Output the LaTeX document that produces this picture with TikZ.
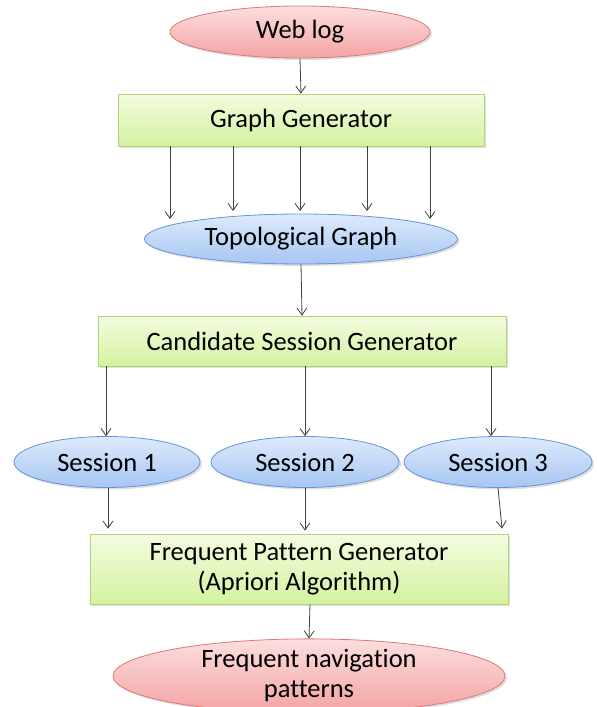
\documentclass[tikz,border=0pt]{standalone}
\usepackage{fontspec}
\setmainfont[Ligatures=NoCommon]{Carlito}
\usetikzlibrary{shapes.geometric,arrows.meta,shadows,calc}
\definecolor{redtop}{RGB}{252,222,222}
\definecolor{redbot}{RGB}{244,163,163}
\definecolor{redline}{RGB}{222,118,118}
\definecolor{greentop}{RGB}{243,252,224}
\definecolor{greenbot}{RGB}{212,242,160}
\definecolor{greenline}{RGB}{176,212,120}
\definecolor{bluetop}{RGB}{222,234,251}
\definecolor{bluebot}{RGB}{166,198,243}
\definecolor{blueline}{RGB}{100,148,214}
\definecolor{arrcol}{RGB}{64,64,64}
\tikzset{
  x=1pt,y=-1pt,
  every node/.style={font=\fontsize{26.5}{30}\selectfont, inner sep=0pt, align=center},
  shad/.style={drop shadow={opacity=0.25,shadow xshift=2pt,shadow yshift=-2pt}},
  redell/.style={ellipse, draw=redline, line width=0.8pt, top color=redtop, bottom color=redbot, shad},
  greenbox/.style={rectangle, draw=greenline, line width=0.8pt, top color=greentop, bottom color=greenbot, shad},
  blueell/.style={ellipse, draw=blueline, line width=0.8pt, top color=bluetop, bottom color=bluebot, shad},
  arr/.style={draw=arrcol, line width=0.8pt, -{Straight Barb[length=7pt,width=10pt]}}
}
\begin{document}
\begin{tikzpicture}
\useasboundingbox (0,0) rectangle (597,707);
\node[redell, minimum width=260, minimum height=52] (web) at (300,32) {Web log};
\node[greenbox, minimum width=366, minimum height=52] (gg) at (301,120) {Graph Generator};
\node[blueell, minimum width=313, minimum height=50] (tg) at (301,239) {Topological Graph};
\node[greenbox, minimum width=408, minimum height=50] (csg) at (302,341) {Candidate Session Generator};
\node[blueell, minimum width=186, minimum height=51] (s1) at (107,462) {Session 1};
\node[blueell, minimum width=188, minimum height=51] (s2) at (305,462) {Session 2};
\node[blueell, minimum width=188, minimum height=51] (s3) at (498,462) {Session 3};
\node[greenbox, minimum width=418, minimum height=70] (fpg) at (299,569) {Frequent Pattern Generator\\(Apriori Algorithm)};
\node[redell, minimum width=392, minimum height=66] (fnp) at (309,676) {Frequent navigation\\patterns};

\draw[arr] (web.south) -- (gg.north);
\draw[arr] ($(gg.south)+(-131,0)$) -- ($(tg.center)+(-131,-20)$);
\draw[arr] ($(gg.south)+(-68,0)$) -- ($(tg.center)+(-68,-28)$);
\draw[arr] ($(gg.south)+(-1,0)$) -- ($(tg.center)+(-1,-28)$);
\draw[arr] ($(gg.south)+(66,0)$) -- ($(tg.center)+(66,-28)$);
\draw[arr] ($(gg.south)+(129,0)$) -- ($(tg.center)+(129,-20)$);
\draw[arr] (tg.south) -- (csg.north);
\draw[arr] ($(csg.south)+(-196,0)$) -- ($(s1.north)+(-1,0)$);
\draw[arr] ($(csg.south)+(3,0)$) -- (s2.north);
\draw[arr] ($(csg.south)+(189,0)$) -- ($(s3.north)+(-7,0)$);
\draw[arr] ($(s1.south)+(1,0)$) -- ($(fpg.north)+(-191,-5)$);
\draw[arr] (s2.south) -- ($(fpg.north)+(6,-3)$);
\draw[arr] (s3.south) -- ($(fpg.north)+(203,-5)$);
\draw[arr] ($(fpg.south)+(11,0)$) -- (fnp.north);
\end{tikzpicture}
\end{document}
